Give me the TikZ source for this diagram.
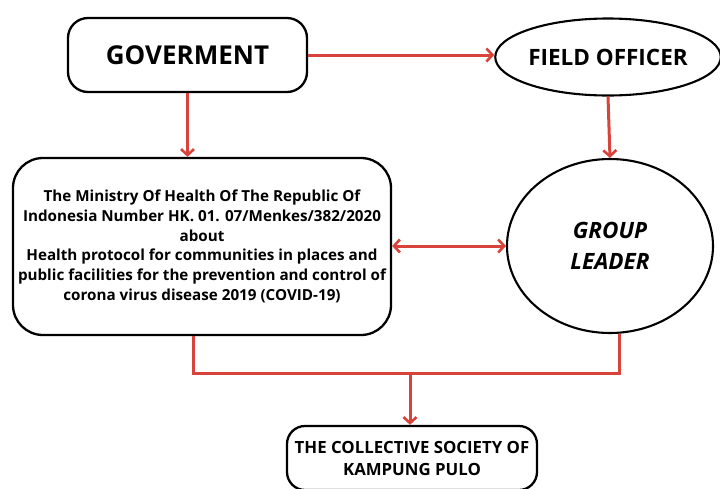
\documentclass[tikz,border=0pt]{standalone}
\usepackage{fontspec}
\setmainfont{Open Sans}
\usetikzlibrary{arrows.meta,shapes.geometric}
\definecolor{cred}{HTML}{D8433B}
\tikzset{
  box/.style={draw=black,line width=2.3pt,rounded corners=20pt,fill=white,align=center,font=\bfseries},
  oval/.style={draw=black,line width=2.1pt,ellipse,inner sep=0pt,align=center,font=\bfseries},
  conn/.style={draw=cred,line width=3pt},
  tip/.style={-{Straight Barb[length=6pt,width=13pt,line width=2.6pt]}},
}
\begin{document}
\begin{tikzpicture}[x=1pt,y=-1pt]
\useasboundingbox (0,0) rectangle (720,488);
\node[box,minimum width=239pt,minimum height=74pt,font=\fontsize{26}{30}\selectfont\bfseries] (gov) at (187.5,55) {GOVERMENT};
\node[oval,minimum width=222pt,minimum height=77pt,font=\fontsize{22.5}{26}\selectfont\bfseries] (fo) at (608,57) {FIELD OFFICER};
\node[box,rounded corners=30pt,minimum width=378pt,minimum height=177pt,font=\fontsize{15.2}{19.7}\selectfont\bfseries] (min) at (202,246.5) {The Ministry Of Health Of The Republic Of\\Indonesia Number HK. 01. 07/Menkes/382/2020\\about\\Health protocol for communities in places and\\public facilities for the prevention and control of\\corona virus disease 2019 (COVID-19)};
\node[oval,minimum width=206pt,minimum height=174pt,font=\fontsize{22.5}{31}\selectfont\bfseries\itshape] (gl) at (610,246) {GROUP\\LEADER};
\node[box,rounded corners=18pt,minimum width=250pt,minimum height=64pt,font=\fontsize{16.8}{22}\selectfont\bfseries] (soc) at (412,458) {THE COLLECTIVE SOCIETY OF\\KAMPUNG PULO};
\coordinate (j) at (410,373);
\draw[conn,tip] (gov.east) -- (gov.east -| fo.west);
\draw[conn,tip] (gov.south) -- (min.north -| gov.south);
\draw[conn,tip] (fo.south) -- (gl.north);
\draw[conn,{Straight Barb[length=6pt,width=13pt,line width=2.6pt]}-{Straight Barb[length=6pt,width=13pt,line width=2.6pt]}] (min.east |- gl.west) -- (gl.west);
\draw[conn] ([xshift=-9pt]min.south) |- (j) -| ([xshift=9pt]gl.south);
\draw[conn,tip] (j) -- (j |- soc.north);
\end{tikzpicture}
\end{document}
